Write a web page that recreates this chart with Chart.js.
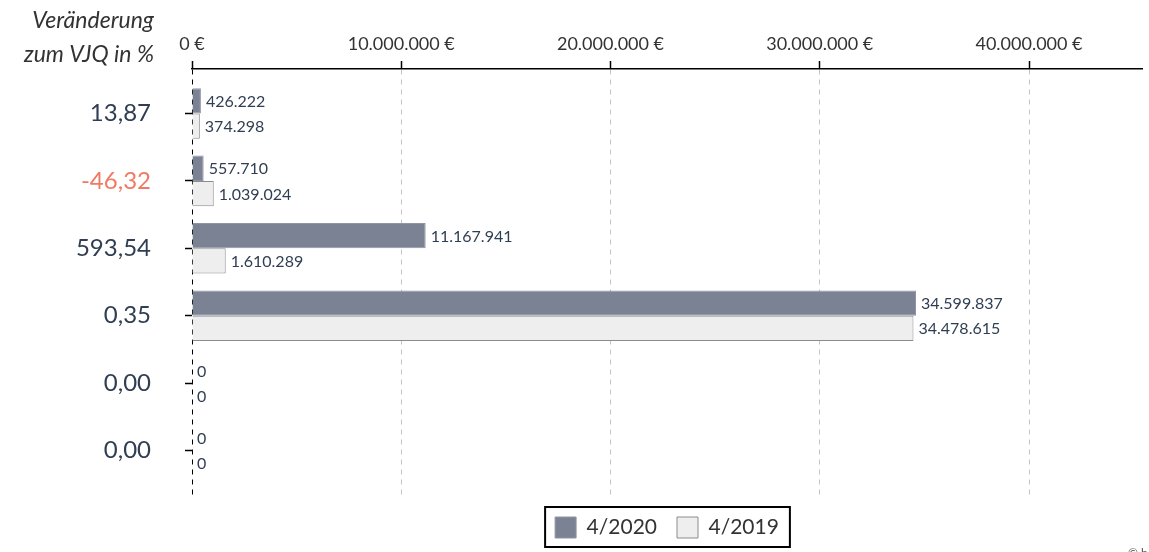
<!DOCTYPE html>
<html>
<head>
<meta charset="utf-8">
<script src="https://cdn.jsdelivr.net/npm/chart.js@4.4.1/dist/chart.umd.min.js"></script>
<style>
html,body{margin:0;padding:0;background:#fff;}
#wrap{position:relative;width:1149px;height:552px;}
</style>
</head>
<body>
<div id="wrap"><canvas id="c" width="1149" height="552"></canvas></div>
<script>
const changeLabels = ['13,87', '-46,32', '593,54', '0,35', '0,00', '0,00'];
const changeColors = ['#2f3e52', '#f07a63', '#2f3e52', '#2f3e52', '#2f3e52', '#2f3e52'];
const values2020 = [426222, 557710, 11167941, 34599837, 0, 0];
const values2019 = [374298, 1039024, 1610289, 34478615, 0, 0];
const seriesNames = ['4/2020', '4/2019'];
const xTicks = [0, 10000000, 20000000, 30000000, 40000000];
const titleLines = ['Veränderung', 'zum VJQ in %'];

const FONT = 'Lato, "Open Sans", sans-serif';
const fmt = v => v.toLocaleString('de-DE');

const labelPlugin = {
  id: 'valueLabels',
  afterDatasetsDraw(chart) {
    const ctx = chart.ctx;
    ctx.save();
    ctx.font = '16px ' + FONT;
    ctx.fillStyle = '#2f3e52';
    ctx.textAlign = 'left';
    ctx.textBaseline = 'middle';
    chart.data.datasets.forEach((ds, di) => {
      const meta = chart.getDatasetMeta(di);
      meta.data.forEach((el, i) => {
        const v = ds.data[i].x;
        ctx.fillText(fmt(v), el.x + 5, el.y + 1);
      });
    });
    ctx.restore();
  },
  afterDraw(chart) {
    const ctx = chart.ctx;
    ctx.save();
    ctx.font = 'italic 23px ' + FONT;
    ctx.fillStyle = '#333333';
    ctx.textAlign = 'right';
    ctx.textBaseline = 'middle';
    ctx.fillText(titleLines[0], 154, 21);
    ctx.fillText(titleLines[1], 154, 55);
    // legend frame
    const lg = chart.legend;
    if (lg && lg.legendHitBoxes && lg.legendHitBoxes.length) {
      const hb = lg.legendHitBoxes;
      const first = hb[0], last = hb[hb.length - 1];
      const l = first.left - 10, r = last.left + last.width + 11;
      const t = first.top - 10, b = first.top + first.height + 9;
      ctx.strokeStyle = '#000';
      ctx.lineWidth = 2;
      ctx.strokeRect(l, t, r - l, b - t);
    }
    ctx.font = '12px ' + FONT;
    ctx.fillStyle = '#555';
    ctx.textAlign = 'left';
    ctx.textBaseline = 'alphabetic';
    ctx.fillText('© h', 1128, 557);
    ctx.restore();
  }
};

new Chart(document.getElementById('c'), {
  type: 'bar',
  data: {
    datasets: [
      {
        label: seriesNames[0],
        data: values2020.map((v, i) => ({x: v, y: i})),
        backgroundColor: '#7a8294',
        borderColor: '#8f95a3',
        borderWidth: 1,
        categoryPercentage: 0.75,
        barPercentage: 1.0
      },
      {
        label: seriesNames[1],
        data: values2019.map((v, i) => ({x: v, y: i})),
        backgroundColor: '#eeeeef',
        borderColor: '#8c8c8c',
        borderWidth: 1,
        categoryPercentage: 0.75,
        barPercentage: 1.0
      }
    ]
  },
  options: {
    indexAxis: 'y',
    responsive: false,
    animation: false,
    layout: { padding: { top: 0, right: 7, bottom: 4, left: 0 } },
    scales: {
      x: {
        type: 'linear',
        position: 'top',
        min: 0,
        max: 45400000,
        afterBuildTicks: s => { s.ticks = xTicks.map(v => ({value: v})); },
        afterFit: s => { s.height = 69; },
        ticks: {
          font: { size: 18, family: FONT },
          color: '#333333',
          padding: 6,
          callback: v => fmt(v) + ' €'
        },
        grid: {
          color: c => (c.tick && c.tick.value === 0) ? '#000000' : '#c4c4c4',
          lineWidth: 1,
          tickLength: 8,
          tickColor: '#000000',
          tickWidth: 1.5
        },
        border: { display: true, color: '#000000', width: 1.5, dash: [5, 5] }
      },
      y: {
        type: 'linear',
        reverse: true,
        offset: false,
        min: -0.66,
        max: 5.69,
        afterBuildTicks: s => { s.ticks = changeLabels.map((_, i) => ({value: i})); },
        afterFit: s => { s.width = 192; },
        ticks: {
          font: { size: 24, family: FONT },
          color: c => changeColors[c.index],
          padding: 34,
          callback: (v, i) => changeLabels[i]
        },
        grid: {
          offset: false,
          drawOnChartArea: false,
          tickLength: 7,
          tickColor: '#000000',
          tickWidth: 1.5
        },
        border: { display: false }
      }
    },
    plugins: {
      legend: {
        position: 'bottom',
        fullSize: false,
        labels: {
          boxWidth: 21,
          boxHeight: 21,
          padding: 20,
          color: '#333333',
          font: { size: 21, family: FONT }
        }
      },
      tooltip: { enabled: false }
    }
  },
  plugins: [labelPlugin]
});
</script>
</body>
</html>
